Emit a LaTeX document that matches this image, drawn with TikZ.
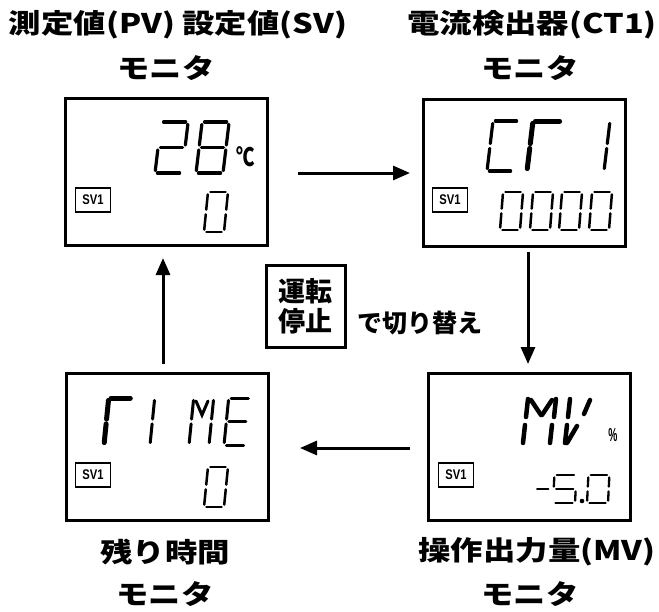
\documentclass[tikz,border=0pt]{standalone}
\usepackage{fontspec}
\usepackage{graphicx}
\setmainfont{Liberation Sans}
\newfontfamily\jp{Noto Sans CJK JP}
\usetikzlibrary{arrows.meta}

% seven-segment helpers
\newcommand\sgdigit[7]{\def\sgX{#1}\def\sgY{#2}\def\sgW{#3}\def\sgH{#4}\def\sgS{#5}\def\sgL{#6}#7}
\newcommand\sgA{\draw[seg] (\sgX+\sgS*\sgH,\sgY-\sgH) -- (\sgX+\sgW+\sgS*\sgH,\sgY-\sgH);}
\newcommand\sgB{\draw[seg] (\sgX+\sgW+\sgS*\sgH,\sgY-\sgH) -- (\sgX+\sgW+\sgS*\sgH/2,\sgY-\sgH/2);}
\newcommand\sgC{\draw[seg] (\sgX+\sgW+\sgS*\sgH/2,\sgY-\sgH/2) -- (\sgX+\sgW,\sgY);}
\newcommand\sgD{\draw[seg] (\sgX,\sgY) -- (\sgX+\sgW,\sgY);}
\newcommand\sgE{\draw[seg] (\sgX+\sgS*\sgH/2,\sgY-\sgH/2) -- (\sgX,\sgY);}
\newcommand\sgF{\draw[seg] (\sgX+\sgS*\sgH,\sgY-\sgH) -- (\sgX+\sgS*\sgH/2,\sgY-\sgH/2);}
\newcommand\sgG{\draw[seg] (\sgX+\sgS*\sgH/2,\sgY-\sgH/2) -- (\sgX+\sgW+\sgS*\sgH/2,\sgY-\sgH/2);}
\newcommand\sgZero{\sgA\sgB\sgC\sgD\sgE\sgF}

\begin{document}
\begin{tikzpicture}[x=1pt,y=-1pt,
  seg/.style={line width=\sgL pt, line cap=round, shorten <=2.4pt, shorten >=2.4pt},
  tk/.style={line width=4.5pt, line cap=round},
  thin/.style={line width=3pt, line cap=round},
  panel/.style={draw, line width=3pt, minimum width=202pt, minimum height=147pt, inner sep=0pt},
  svbox/.style={draw, line width=1.3pt, minimum width=35pt, minimum height=24pt, inner sep=0pt,
     font=\bfseries\fontsize{14}{14}\selectfont},
  title/.style={font=\jp\bfseries\fontsize{27}{30}\selectfont, inner sep=0pt},
  arr/.style={line width=3pt, -{Triangle[length=17pt,width=14pt]}}
]
\useasboundingbox (0,0) rectangle (659,611);

% titles
\node[title] (t1) at (178,25) {\scalebox{1.2}[1]{測定値(PV) 設定値(SV)}};
\node[title] (t1m) at (166,68) {\scalebox{1.2}[1]{モニタ}};
\node[title] (t2) at (532,25) {\scalebox{1.2}[1]{電流検出器(CT1)}};
\node[title] (t2m) at (530,68) {\scalebox{1.2}[1]{モニタ}};
\node[title] (t3) at (165,552) {\scalebox{1.2}[1]{残り時間}};
\node[title] (t3m) at (165,594) {\scalebox{1.2}[1]{モニタ}};
\node[title] (t4) at (537,552) {\scalebox{1.2}[1]{操作出力量(MV)}};
\node[title] (t4m) at (530,594) {\scalebox{1.2}[1]{モニタ}};

% panels
\node[panel] (b1) at (166.5,171.5) {};
\node[panel] (b2) at (524,172.5) {};
\node[panel] (b3) at (529,447) {};
\node[panel] (b4) at (167,446.5) {};

% SV1 labels
\node[svbox] (sv1) at (93,200) {\scalebox{0.8}[1]{SV1}};
\node[svbox] (sv2) at (450,200) {\scalebox{0.8}[1]{SV1}};
\node[svbox] (sv3) at (456,475) {\scalebox{0.8}[1]{SV1}};
\node[svbox] (sv4) at (93,475) {\scalebox{0.8}[1]{SV1}};

% panel 1: 28 C / 0
\sgdigit{155}{173}{27}{51}{0.12}{3.2}{\sgA\sgB\sgG\sgE\sgD}
\sgdigit{196}{173}{27}{51}{0.12}{3.2}{\sgZero\sgG}
\node[font=\jp\bfseries\fontsize{23}{23}\selectfont, inner sep=0pt] (degc) at (246,157) {\scalebox{0.8}[1.1]{℃}};
\sgdigit{204}{232}{20}{40}{0.1}{2.5}{\sgZero}

% panel 2: Cr1 / 0000
\sgdigit{487}{171}{26}{50}{0.12}{3.2}{\sgA\sgF\sgE\sgD}
\sgdigit{527}{171}{29}{50}{0.12}{5}{\sgA\sgF\sgE}
\sgdigit{578}{171}{26}{50}{0.12}{3.2}{\sgB\sgC}
\sgdigit{500}{230}{20}{38}{0.08}{2.5}{\sgZero}
\sgdigit{530}{230}{20}{38}{0.08}{2.5}{\sgZero}
\sgdigit{559}{230}{20}{38}{0.08}{2.5}{\sgZero}
\sgdigit{589}{230}{20}{38}{0.08}{2.5}{\sgZero}

% panel 3: MV % / -5.0
\draw[tk] (528,399) -- (526,417);
\draw[tk] (525,425) -- (523,443);
\draw[tk] (531,400) -- (541,415);
\draw[tk] (542,415) -- (552,400);
\draw[tk] (556,399) -- (554,417);
\draw[tk] (552,425) -- (550,443);
\draw[tk] (570,399) -- (568,417);
\draw[tk] (567,425) -- (565,443);
\draw[tk] (567,443) -- (577,426);
\draw[tk] (590,400) -- (584,414);
\node[font=\bfseries\fontsize{17}{17}\selectfont, inner sep=0pt] (pct) at (613,435) {\scalebox{0.6}[1.1]{\%}};
\sgdigit{534}{503}{16}{28}{0.05}{2.3}{\sgG}
\sgdigit{553}{503}{22}{28}{0.05}{2.3}{\sgA\sgF\sgG\sgC\sgD}
\fill (582,501) circle (2.3);
\sgdigit{587}{503}{21}{28}{0.05}{2.3}{\sgZero}

% panel 4: TIME / 0
\sgdigit{104}{445}{24}{47}{0.1}{5}{\sgA\sgF\sgE}
\sgdigit{150}{445}{24}{47}{0.1}{3}{\sgF\sgE}
\sgdigit{189}{445}{20}{47}{0.1}{3}{\sgF\sgE\sgB\sgC}
\draw[thin] (196,401) -- (202,415) -- (208,401);
\sgdigit{224}{445}{22}{47}{0.1}{3}{\sgA\sgF\sgG\sgE\sgD}
\sgdigit{204}{507}{20}{40}{0.1}{2.5}{\sgZero}

% centre key
\node[draw, line width=3pt, minimum width=79pt, minimum height=82pt, inner sep=0pt,
  align=center, font=\jp\bfseries\fontsize{27}{30}\selectfont] (key) at (305.5,306) {運転\\停止};
\node[font=\jp\bfseries\fontsize{25}{25}\selectfont, inner sep=0pt] (sw) at (420,323) {で切り替え};

% arrows
\coordinate (a1s) at (298,173); \coordinate (a1e) at (410,173);
\coordinate (a2s) at (528,252); \coordinate (a2e) at (528,364);
\coordinate (a3s) at (410,448); \coordinate (a3e) at (300,448);
\coordinate (a4s) at (163,364); \coordinate (a4e) at (163,258);
\draw[arr] (a1s) -- (a1e);
\draw[arr] (a2s) -- (a2e);
\draw[arr] (a3s) -- (a3e);
\draw[arr] (a4s) -- (a4e);
\end{tikzpicture}
\end{document}
